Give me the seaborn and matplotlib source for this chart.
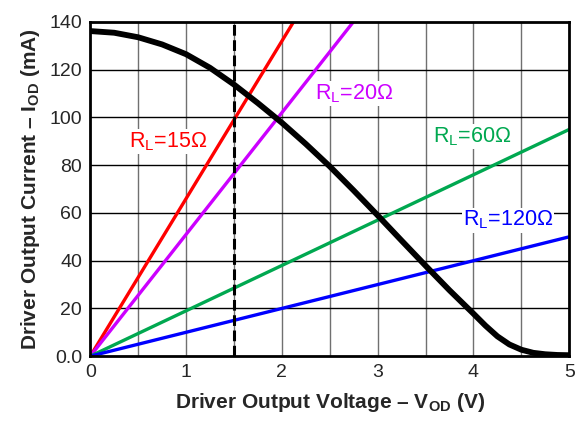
import numpy as np
import pandas as pd
import matplotlib
matplotlib.use("Agg")
import matplotlib.pyplot as plt
import seaborn as sns

# driver output curve
vod = [0.0, 0.25, 0.5, 0.75, 1.0, 1.25, 1.5, 1.75, 2.0, 2.25, 2.5, 2.75, 3.0,
       3.25, 3.5, 3.75, 4.0, 4.125, 4.25, 4.375, 4.5, 4.625, 4.75, 4.875, 5.0]
iod = [136.2, 135.5, 133.6, 130.6, 126.5, 120.8, 113.8, 106, 97.8, 88.9, 79.5,
       69.4, 59, 48.4, 37.9, 27.6, 17.8, 12.8, 8.3, 4.9, 2.7, 1.4, 0.8, 0.5, 0.4]

# load lines: (0, 0) to the value read at 5 V
load_names = ["15", "20", "60", "120"]
load_x = [[0, 5], [0, 5], [0, 5], [0, 5]]
load_y = [[0, 330], [0, 255], [0, 95], [0, 50]]
load_colors = ["#FF0000", "#CC00FF", "#00A850", "#0000FF"]
label_pos = [(0.40, 90), (2.35, 110), (3.58, 92), (3.89, 57)]

x_ticks = [0, 1, 2, 3, 4, 5]
y_ticks = [0, 20, 40, 60, 80, 100, 120, 140]
y_ticklabels = ["0.0", "20", "40", "60", "80", "100", "120", "140"]

sns.set_style("white")
plt.rcParams["font.family"] = ["Liberation Sans", "DejaVu Sans"]
plt.rcParams["mathtext.fontset"] = "custom"
plt.rcParams["mathtext.rm"] = "Liberation Sans"
plt.rcParams["mathtext.bf"] = "Liberation Sans:bold"

fig = plt.figure(figsize=(5.75, 4.23), dpi=100)
ax = fig.add_axes([0.157, 0.158, 0.833, 0.79])

# grid
for xv in np.arange(0.5, 5, 0.5):
    ax.axvline(xv, color="#707070", lw=1.0, zorder=0)
for yv in y_ticks[1:-1]:
    ax.axhline(yv, color="black", lw=1.0, zorder=0)

for name, xs, ys, c in zip(load_names, load_x, load_y, load_colors):
    df = pd.DataFrame({"x": xs, "y": ys})
    sns.lineplot(data=df, x="x", y="y", color=c, lw=2.4, ax=ax, zorder=3)

for name, (tx, ty), c in zip(load_names, label_pos, load_colors):
    ax.text(tx, ty, r"R$_\mathrm{L}$=" + name + "Ω", color=c, fontsize=15.5,
            va="center", ha="left", zorder=4,
            bbox=dict(facecolor="white", edgecolor="none", pad=1))

ax.axvline(1.5, color="black", lw=2.2, ls=(0, (3.5, 1.5)), zorder=4)

curve = pd.DataFrame({"x": vod, "y": iod})
sns.lineplot(data=curve, x="x", y="y", color="black", lw=4.2, ax=ax, zorder=5,
             solid_joinstyle="round", solid_capstyle="round")

ax.set_xlim(0, 5)
ax.set_ylim(0, 140)
ax.set_xticks(x_ticks)
ax.set_yticks(y_ticks)
ax.set_yticklabels(y_ticklabels)
ax.tick_params(length=0, labelsize=14, pad=6)
for s in ax.spines.values():
    s.set_color("black")
    s.set_linewidth(2)
    s.set_zorder(6)

ax.set_xlabel(r"Driver Output Voltage – V$_\mathbf{OD}$ (V)", fontsize=15,
              fontweight="bold", labelpad=7)
ax.set_ylabel(r"Driver Output Current – I$_\mathbf{OD}$ (mA)", fontsize=15,
              fontweight="bold", labelpad=5)

fig.savefig("out.png", dpi=100)
